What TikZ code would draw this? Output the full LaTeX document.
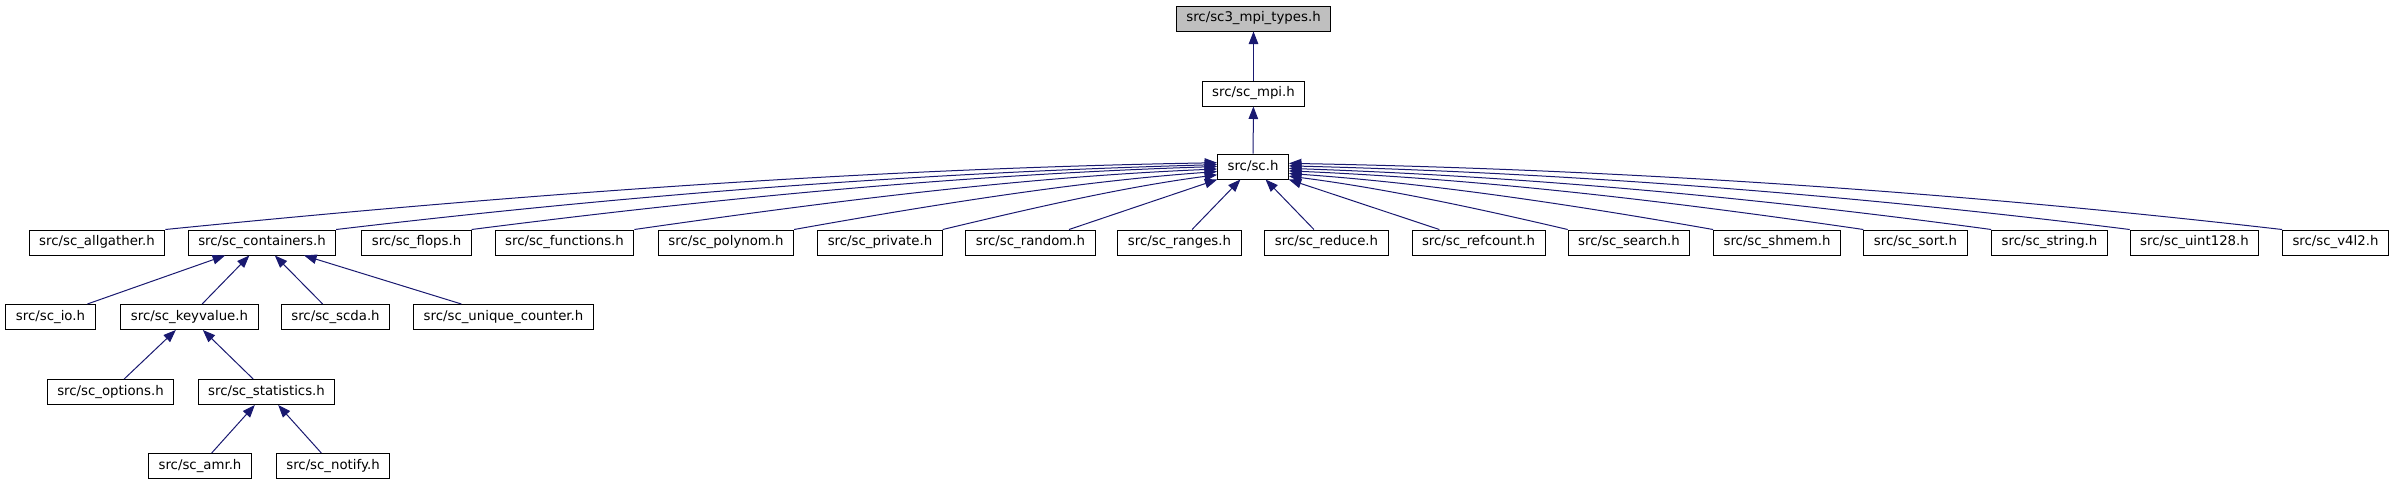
\documentclass[tikz,border=0pt]{standalone}
\usepackage{fontspec}
\setmainfont{DejaVu Sans}
\usepackage{xcolor}
\usetikzlibrary{arrows.meta,calc}
\definecolor{edgeblue}{HTML}{191970}
\definecolor{topgrey}{HTML}{BFBFBF}
\begin{document}
\begin{tikzpicture}[x=1pt, y=-1pt,
    file/.style={draw=black, line width=1pt, fill=white, minimum height=25pt,
      inner xsep=10pt, inner ysep=0pt, font=\fontsize{13.3}{16}\selectfont},
    edge/.style={draw=edgeblue, line width=1pt, {Triangle[length=12.5pt,width=9.5pt]}-}]
    \useasboundingbox (0,0) rectangle (2395,485);

    \node[file, fill=topgrey] (types) at (1253.5,18.5) {src/sc3\_mpi\_types.h};
    \node[file] (mpi) at (1253.5,93.5) {src/sc\_mpi.h};
    \node[file] (sc) at (1253,166.5) {src/sc.h};

    \node[file] (allgather) at (97,242.5) {src/sc\_allgather.h};
    \node[file] (containers) at (262,242.5) {src/sc\_containers.h};
    \node[file] (flops) at (416.5,242.5) {src/sc\_flops.h};
    \node[file] (functions) at (564.5,242.5) {src/sc\_functions.h};
    \node[file] (polynom) at (726,242.5) {src/sc\_polynom.h};
    \node[file] (private) at (880,242.5) {src/sc\_private.h};
    \node[file] (random) at (1030.5,242.5) {src/sc\_random.h};
    \node[file] (ranges) at (1179.5,242.5) {src/sc\_ranges.h};
    \node[file] (reduce) at (1326.5,242.5) {src/sc\_reduce.h};
    \node[file] (refcount) at (1478.5,242.5) {src/sc\_refcount.h};
    \node[file] (search) at (1629,242.5) {src/sc\_search.h};
    \node[file] (shmem) at (1777,242.5) {src/sc\_shmem.h};
    \node[file] (sort) at (1915.5,242.5) {src/sc\_sort.h};
    \node[file] (string) at (2049.5,242.5) {src/sc\_string.h};
    \node[file] (uint) at (2194.5,242.5) {src/sc\_uint128.h};
    \node[file] (vfl) at (2335.5,242.5) {src/sc\_v4l2.h};

    \node[file] (io) at (50.5,317) {src/sc\_io.h};
    \node[file] (keyvalue) at (189.5,317) {src/sc\_keyvalue.h};
    \node[file] (scda) at (335.5,317) {src/sc\_scda.h};
    \node[file] (unique) at (503.5,317) {src/sc\_unique\_counter.h};

    \node[file] (options) at (110.5,392) {src/sc\_options.h};
    \node[file] (statistics) at (266.5,392) {src/sc\_statistics.h};

    \node[file] (amr) at (200,466) {src/sc\_amr.h};
    \node[file] (notify) at (333,466) {src/sc\_notify.h};

    \draw[edge] (types) -- (mpi);
    \draw[edge] (mpi) -- (sc);

    \draw[edge] (sc.174) .. controls ($(sc.174)+(-350,6)$) and ($(allgather.north east)+(350,-35)$) .. (allgather.north east);
    \draw[edge] (sc.177) .. controls ($(sc.177)+(-295,8)$) and ($(containers.north east)+(295,-35)$) .. (containers.north east);
    \draw[edge] (sc.180) .. controls ($(sc.180)+(-250,8)$) and ($(flops.north east)+(250,-32)$) .. (flops.north east);
    \draw[edge] (sc.184) .. controls ($(sc.184)+(-195,8)$) and ($(functions.north east)+(195,-28)$) .. (functions.north east);
    \draw[edge] (sc.188) .. controls ($(sc.188)+(-140,10)$) and ($(polynom.north east)+(140,-25)$) .. (polynom.north east);
    \draw[edge] (sc.193) .. controls ($(sc.193)+(-92,12)$) and ($(private.north east)+(92,-22)$) .. (private.north east);
    \draw[edge] (sc.200) -- (random);
    \draw[edge] (sc) -- (ranges);
    \draw[edge] (sc) -- (reduce);
    \draw[edge] (sc.340) -- (refcount);
    \draw[edge] (sc.345) .. controls ($(sc.345)+(94,12)$) and ($(search.north west)+(-94,-22)$) .. (search.north west);
    \draw[edge] (sc.349) .. controls ($(sc.349)+(142,10)$) and ($(shmem.north west)+(-142,-25)$) .. (shmem.north west);
    \draw[edge] (sc.353) .. controls ($(sc.353)+(192,8)$) and ($(sort.north west)+(-192,-28)$) .. (sort.north west);
    \draw[edge] (sc.357) .. controls ($(sc.357)+(235,8)$) and ($(string.north west)+(-235,-32)$) .. (string.north west);
    \draw[edge] (sc.1) .. controls ($(sc.1)+(280,7)$) and ($(uint.north west)+(-280,-35)$) .. (uint.north west);
    \draw[edge] (sc.5) .. controls ($(sc.5)+(330,6)$) and ($(vfl.north west)+(-330,-38)$) .. (vfl.north west);

    \draw[edge] (containers) -- (io);
    \draw[edge] (containers) -- (keyvalue);
    \draw[edge] (containers) -- (scda);
    \draw[edge] (containers) -- (unique);
    \draw[edge] (keyvalue) -- (options);
    \draw[edge] (keyvalue) -- (statistics);
    \draw[edge] (statistics) -- (amr);
    \draw[edge] (statistics) -- (notify);
\end{tikzpicture}
\end{document}
